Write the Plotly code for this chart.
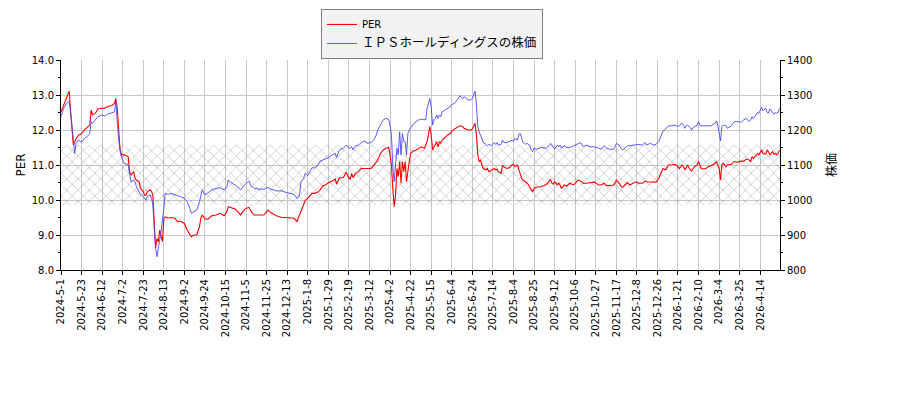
import plotly.graph_objects as go

# trading-day index (0 = 2024-5-1), PER and share price
day = [0, 2, 4, 6, 7, 8, 9, 10, 11, 13, 15, 17, 19, 21, 22, 23, 25, 27, 30, 32,
       34, 37, 39, 40, 41, 42, 43, 44, 46, 49, 50, 51, 53, 54, 55, 57, 58, 60, 61, 62,
       63, 65, 66, 67, 68, 69, 70, 71, 72, 73, 74, 75, 76, 78, 80, 83, 85, 87, 90, 92,
       94, 95, 97, 99, 101, 102, 103,
       105, 107, 110, 113, 116, 119, 121, 122, 124, 127, 129, 131, 133, 135, 137, 139,
       141, 145, 148, 151, 153, 157, 161, 164, 167, 170, 172, 173, 174, 175, 177, 178,
       180, 183, 185, 187, 189, 191, 193, 195, 198, 200, 201, 203, 206, 208, 210,
       211, 212, 213, 215, 217, 219, 222, 223, 226, 228, 230, 231, 233, 235, 237, 239,
       240, 241, 242, 243, 244, 245, 246, 247, 248, 249, 250, 251, 252, 253, 254, 255,
       257, 259, 261, 263, 265, 266, 267, 268, 269, 270, 271, 272, 273, 274, 275, 276,
       277, 278, 280, 282, 284, 285, 287, 289, 291, 293, 294, 297, 299, 300, 301, 302,
       303, 304, 305, 306, 307, 308, 310, 311, 312, 314,
       316, 317, 318, 319, 321, 322, 323, 325, 327, 329, 330, 331, 333, 334, 335, 336,
       337, 338, 339, 340, 341, 342, 343, 344, 345, 347, 350, 352, 354, 356, 357, 358,
       359, 360, 362, 363, 364, 365, 367, 369, 371, 374, 376, 377, 379, 381, 383, 386,
       389, 392, 394, 396, 398, 400, 403, 404, 405, 407, 409, 410, 413, 415, 417, 420,
       421, 424, 425, 426, 427, 430, 432, 434, 436, 437, 438, 439, 441, 442, 443, 445,
       448, 450, 451, 453, 454, 455, 456, 457, 459, 460, 461, 462, 464, 465, 466, 467,
       470, 472, 474, 477, 478, 479, 480, 481, 482, 483, 485, 486, 489, 491, 493, 496,
       498, 500, 502, 503, 504, 505, 507, 508, 509, 510, 511, 512, 514, 515, 516, 517,
       519, 520, 521, 522, 523, 524]

per = [12.52, 12.71, 12.95, 13.11, 12.52, 12.05, 11.57, 11.65, 11.76, 11.86, 11.89, 12.0, 12.07, 12.14, 12.57, 12.43, 12.48, 12.6, 12.62, 12.62,
       12.67, 12.7, 12.76, 12.9, 12.62, 11.95, 11.48, 11.29, 11.29, 11.24, 10.81, 10.71, 10.81, 10.62, 10.57, 10.52, 10.33, 10.24, 10.14, 10.14,
       10.24, 10.29, 10.24, 10.14, 9.43, 8.62, 8.9, 8.81, 9.14, 9.0, 8.81, 9.48, 9.52, 9.48, 9.5, 9.48, 9.38, 9.4, 9.33, 9.14,
       9.0, 8.95, 9.0, 9.0, 9.24, 9.48, 9.57,
       9.46, 9.45, 9.55, 9.57, 9.62, 9.55, 9.67, 9.81, 9.79, 9.74, 9.67, 9.57, 9.69, 9.76, 9.79, 9.65,
       9.57, 9.57, 9.57, 9.71, 9.64, 9.55, 9.5, 9.5, 9.48, 9.48, 9.38, 9.48, 9.57, 9.71, 9.86, 9.97,
       10.05, 10.19, 10.19, 10.22, 10.29, 10.41, 10.43, 10.49, 10.54, 10.6, 10.45, 10.62, 10.65, 10.79, 10.62,
       10.6, 10.76, 10.64, 10.76, 10.81, 10.9, 10.9, 10.92, 10.9, 10.98, 11.08, 11.14, 11.33, 11.43, 11.48, 11.51,
       11.29, 11.0, 10.33, 9.81, 10.14, 10.9, 10.67, 11.1, 10.48, 11.1, 10.81, 11.1, 10.52, 10.9, 11.1, 11.33,
       11.4, 11.43, 11.48, 11.52, 11.48, 11.57, 11.67, 11.86, 12.1, 11.86, 11.43, 11.52, 11.57, 11.67, 11.52, 11.67,
       11.62, 11.71, 11.78, 11.86, 11.9, 11.97, 12.03, 12.07, 12.12, 12.1, 12.05, 12.0, 12.0, 12.03, 12.1, 12.19,
       11.86, 11.29, 11.1, 11.14, 11.0, 10.9, 10.86, 10.9, 10.81, 10.86,
       10.9, 10.86, 10.88, 10.81, 10.76, 11.0, 10.95, 10.9, 10.92, 11.0, 11.02, 10.95, 11.0, 10.86, 10.71, 10.62,
       10.57, 10.54, 10.52, 10.48, 10.43, 10.35, 10.29, 10.24, 10.33, 10.37, 10.38, 10.41, 10.45, 10.54, 10.59, 10.48,
       10.45, 10.52, 10.43, 10.48, 10.43, 10.33, 10.43, 10.4, 10.48, 10.43, 10.52, 10.57, 10.54, 10.48, 10.48, 10.5,
       10.51, 10.43, 10.43, 10.48, 10.41, 10.41, 10.43, 10.48, 10.57, 10.48, 10.36, 10.38, 10.5, 10.43, 10.48, 10.52,
       10.48, 10.48, 10.52, 10.54, 10.52, 10.52, 10.51, 10.51, 10.62, 10.71, 10.81, 10.9, 10.86, 10.95, 11.0, 11.0,
       11.02, 10.95, 10.9, 11.0, 10.95, 10.86, 10.95, 11.0, 10.86, 10.83, 10.9, 10.95, 11.0, 11.1, 11.0, 10.9,
       10.89, 10.95, 10.98, 11.05, 11.1, 11.0, 10.9, 10.57, 11.0, 11.05, 10.95, 11.0, 11.02, 11.1, 11.08, 11.11,
       11.11, 11.17, 11.14, 11.1, 11.24, 11.19, 11.29, 11.33, 11.29, 11.38, 11.43, 11.33, 11.31, 11.43, 11.38, 11.29,
       11.38, 11.31, 11.33, 11.29, 11.33, 11.43]

price = [1238, 1262, 1276, 1281, 1252, 1210, 1157, 1133, 1162, 1171, 1165, 1176, 1181, 1190, 1224, 1219, 1229, 1238, 1243, 1240,
         1245, 1248, 1252, 1281, 1210, 1176, 1143, 1124, 1105, 1100, 1076, 1052, 1057, 1052, 1038, 1024, 1016, 1010, 1005, 1000,
         1010, 1014, 1005, 986, 919, 862, 838, 871, 886, 910, 938, 976, 1019, 1016, 1019, 1016, 1014, 1010, 1005, 995,
         976, 962, 967, 971, 995, 1014, 1029,
         1014, 1019, 1029, 1033, 1035, 1029, 1038, 1057, 1050, 1043, 1035, 1029, 1040, 1048, 1054, 1038,
         1033, 1031, 1031, 1036, 1031, 1026, 1026, 1022, 1019, 1016, 1005, 1007, 1014, 1052, 1062, 1076,
         1070, 1092, 1092, 1097, 1111, 1114, 1117, 1121, 1129, 1133, 1121, 1143, 1148, 1157, 1148,
         1148, 1152, 1143, 1155, 1157, 1164, 1169, 1162, 1164, 1171, 1186, 1200, 1217, 1229, 1233, 1230,
         1214, 1186, 1095, 1052, 1100, 1148, 1129, 1195, 1129, 1190, 1167, 1167, 1129, 1190, 1200, 1207,
         1217, 1224, 1229, 1231, 1229, 1229, 1262, 1281, 1290, 1267, 1214, 1229, 1233, 1243, 1233, 1243,
         1238, 1252, 1257, 1262, 1267, 1273, 1276, 1286, 1298, 1290, 1295, 1286, 1286, 1290, 1300, 1311,
         1271, 1210, 1195, 1186, 1176, 1164, 1159, 1155, 1159, 1155,
         1164, 1159, 1164, 1157, 1159, 1171, 1164, 1164, 1167, 1171, 1167, 1176, 1171, 1188, 1190, 1174,
         1164, 1162, 1159, 1162, 1157, 1155, 1143, 1138, 1148, 1145, 1150, 1150, 1148, 1155, 1162, 1157,
         1152, 1145, 1157, 1152, 1157, 1148, 1155, 1150, 1150, 1155, 1159, 1162, 1164, 1152, 1157, 1152,
         1152, 1148, 1145, 1155, 1148, 1145, 1145, 1150, 1162, 1157, 1145, 1143, 1155, 1155, 1157, 1159,
         1159, 1157, 1162, 1164, 1157, 1162, 1157, 1159, 1167, 1176, 1186, 1197, 1203, 1207, 1212, 1212,
         1214, 1210, 1214, 1219, 1214, 1205, 1212, 1214, 1207, 1200, 1207, 1210, 1214, 1224, 1214, 1212,
         1212, 1210, 1212, 1219, 1226, 1214, 1193, 1169, 1210, 1214, 1212, 1205, 1212, 1224, 1224, 1222,
         1229, 1233, 1224, 1229, 1238, 1233, 1243, 1250, 1248, 1257, 1265, 1255, 1262, 1250, 1248, 1260,
         1248, 1245, 1250, 1248, 1250, 1262]

# a date label every 15 trading days
tick_labels = ["2024-5-1", "2024-5-23", "2024-6-12", "2024-7-2", "2024-7-23", "2024-8-13",
               "2024-9-2", "2024-9-24", "2024-10-15", "2024-11-5", "2024-11-25", "2024-12-13",
               "2025-1-8", "2025-1-29", "2025-2-19", "2025-3-12", "2025-4-2", "2025-4-22",
               "2025-5-15", "2025-6-4", "2025-6-24", "2025-7-14", "2025-8-4", "2025-8-25",
               "2025-9-12", "2025-10-6", "2025-10-27", "2025-11-17", "2025-12-8", "2025-12-26",
               "2026-1-21", "2026-2-10", "2026-3-4", "2026-3-25", "2026-4-14"]
tick_step = 15

# hatched PER band
band_low = 9.85
band_high = 11.58

x_end = 524.4
font = "DejaVu Sans, Noto Sans CJK JP"
price_name = "ＩＰＳホールディングスの株価"

fig = go.Figure()

fig.add_trace(go.Scatter(
    x=[0, x_end, x_end, 0, 0],
    y=[band_low, band_low, band_high, band_high, band_low],
    fill="toself", mode="lines", line=dict(width=0),
    fillcolor="rgba(0,0,0,0)",
    fillpattern=dict(shape="x", fgcolor="#808080", bgcolor="rgba(0,0,0,0)",
                     size=8, solidity=0.16),
    showlegend=False, hoverinfo="skip"))

fig.add_trace(go.Scatter(x=day, y=per, name="PER", mode="lines",
                         line=dict(color="#ff0000", width=1.1)))
fig.add_trace(go.Scatter(x=day, y=price,
                         name='<span style="font-size:12.5px">' + price_name + "</span>",
                         mode="lines", yaxis="y2",
                         line=dict(color="#4848ff", width=0.9)))

# the page body has an 8px margin, so the figure is drawn 8px smaller
fig.update_layout(
    width=892, height=392,
    margin=dict(l=53, r=120, t=52, b=130, autoexpand=False),
    paper_bgcolor="white", plot_bgcolor="white",
    font=dict(family=font, size=10, color="#000000"),
    showlegend=True,
    legend=dict(x=0.516, y=1.243, xanchor="center", yanchor="top",
                bgcolor="#f2f2f2", bordercolor="#808080", borderwidth=1,
                font=dict(family=font, size=10), tracegroupgap=0,
                itemwidth=30),
    xaxis=dict(range=[0, x_end], automargin=False,
               tickvals=[i * tick_step for i in range(len(tick_labels))],
               ticktext=tick_labels, tickangle=-90,
               showgrid=True, gridcolor="#c8c8c8", gridwidth=1,
               showline=True, linecolor="black", linewidth=1,
               ticks="outside", ticklen=4, tickcolor="black",
               zeroline=False),
    yaxis=dict(range=[8, 14], dtick=1, tickformat=".1f", automargin=False,
               title=dict(text="PER", standoff=3),
               showgrid=True, gridcolor="#c8c8c8", gridwidth=1,
               showline=True, linecolor="black", linewidth=1,
               ticks="outside", ticklen=4, tickcolor="black",
               minor=dict(dtick=0.5, ticks="outside", ticklen=2, tickcolor="black", showgrid=False),
               zeroline=False),
    yaxis2=dict(range=[800, 1400], dtick=100, overlaying="y", side="right",
                automargin=False,
                title=dict(text="株価", standoff=16),
                showgrid=False,
                showline=True, linecolor="black", linewidth=1,
                ticks="outside", ticklen=4, tickcolor="black",
                minor=dict(dtick=50, ticks="outside", ticklen=2, tickcolor="black"),
                zeroline=False),
)

fig.write_html("out.html")
